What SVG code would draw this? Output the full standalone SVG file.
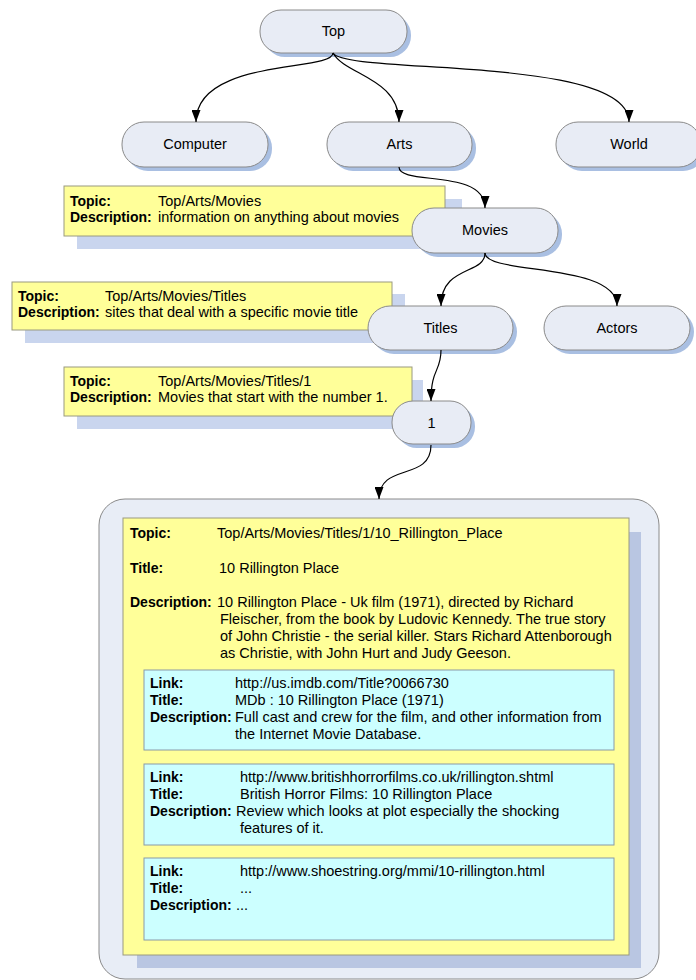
<svg xmlns="http://www.w3.org/2000/svg" width="696" height="980" viewBox="0 0 696 980">
<style>
text{font-family:"Liberation Sans",Arial,sans-serif;font-size:14.5px;fill:#000}
.b{font-weight:bold;font-size:14px}
.nt{font-size:14.5px;text-anchor:middle}
.node{fill:#e8ecf5;stroke:#8a8a8a;stroke-width:1}
.nsh{fill:#a9bfe2}
.note{fill:#ffff99;stroke:#9a9a80;stroke-width:1}
.noteSh{fill:#c9d5ee}
.cyan{fill:#ccffff;stroke:#8a9aa8;stroke-width:1}
.edge{fill:none;stroke:#000;stroke-width:1.2}
</style>
<defs>
<marker id="arr" markerWidth="12" markerHeight="9" refX="12" refY="4.5" orient="auto" markerUnits="userSpaceOnUse">
<path d="M0,0 L12,4.5 L0,9 z" fill="#000"/>
</marker>
</defs>

<!-- notes -->
<g id="note-movies">
<rect class="noteSh" x="77" y="199" width="385" height="50"/>
<rect class="note" x="64" y="186" width="381" height="50"/>
<text x="70" y="206" class="b">Topic:</text><text x="158" y="206">Top/Arts/Movies</text>
<text x="70" y="222" class="b">Description:</text><text x="158" y="222">information on anything about movies</text>
</g>
<g id="note-titles">
<rect class="noteSh" x="25" y="294" width="380" height="49"/>
<rect class="note" x="12" y="282" width="380" height="48"/>
<text x="18" y="301" class="b">Topic:</text><text x="105" y="301">Top/Arts/Movies/Titles</text>
<text x="18" y="317" class="b">Description:</text><text x="105" y="317">sites that deal with a specific movie title</text>
</g>
<g id="note-1">
<rect class="noteSh" x="77" y="380" width="346" height="49"/>
<rect class="note" x="64" y="367" width="348" height="49"/>
<text x="70" y="386" class="b">Topic:</text><text x="158" y="386">Top/Arts/Movies/Titles/1</text>
<text x="70" y="402" class="b">Description:</text><text x="158" y="402">Movies that start with the number 1.</text>
</g>

<!-- nodes -->
<g id="node-top">
<rect class="nsh" x="264" y="14" width="147" height="43" rx="21"/>
<rect class="node" x="260" y="10" width="147" height="43" rx="21"/>
<text class="nt" x="333.5" y="36">Top</text>
</g>
<g id="node-computer">
<rect class="nsh" x="126" y="126" width="146" height="45" rx="22"/>
<rect class="node" x="122" y="122" width="146" height="45" rx="22"/>
<text class="nt" x="195" y="149">Computer</text>
</g>
<g id="node-arts">
<rect class="nsh" x="331" y="126" width="145" height="45" rx="22"/>
<rect class="node" x="327" y="122" width="145" height="45" rx="22"/>
<text class="nt" x="399.5" y="149">Arts</text>
</g>
<g id="node-world">
<rect class="nsh" x="560" y="126" width="145" height="45" rx="22"/>
<rect class="node" x="556" y="122" width="145" height="45" rx="22"/>
<text class="nt" x="629" y="149">World</text>
</g>
<g id="node-movies">
<rect class="nsh" x="416" y="212" width="146" height="45" rx="22"/>
<rect class="node" x="412" y="208" width="146" height="45" rx="22"/>
<text class="nt" x="485" y="235">Movies</text>
</g>
<g id="node-titles">
<rect class="nsh" x="372" y="310" width="145" height="44" rx="22"/>
<rect class="node" x="368" y="306" width="145" height="44" rx="22"/>
<text class="nt" x="440.5" y="333">Titles</text>
</g>
<g id="node-actors">
<rect class="nsh" x="548" y="310" width="146" height="44" rx="22"/>
<rect class="node" x="544" y="306" width="146" height="44" rx="22"/>
<text class="nt" x="617" y="333">Actors</text>
</g>
<g id="node-1">
<rect class="nsh" x="396" y="405" width="79" height="43" rx="21"/>
<rect class="node" x="392" y="401" width="79" height="43" rx="21"/>
<text class="nt" x="431.5" y="428">1</text>
</g>

<!-- detail container -->
<g id="node-detail">
<rect x="99" y="499" width="560" height="480" rx="26" fill="#e8edf6" stroke="#8a8a8a" stroke-width="1"/>
<rect x="137" y="532" width="504" height="436" fill="#b9c6e2"/>
<rect x="123" y="518" width="506" height="437" fill="#ffff99" stroke="#9a9a80" stroke-width="1"/>
<text x="130" y="538" class="b">Topic:</text><text x="217" y="538">Top/Arts/Movies/Titles/1/10_Rillington_Place</text>
<text x="130" y="573" class="b">Title:</text><text x="219" y="573">10 Rillington Place</text>
<text x="130" y="607" class="b">Description:</text><text x="217" y="607">10 Rillington Place - Uk film (1971), directed by Richard</text>
<text x="220" y="624">Fleischer, from the book by Ludovic Kennedy. The true story</text>
<text x="220" y="641">of John Christie - the serial killer. Stars Richard Attenborough</text>
<text x="220" y="658">as Christie, with John Hurt and Judy Geeson.</text>

<rect class="cyan" x="144" y="670" width="470" height="80"/>
<text x="150" y="688" class="b">Link:</text><text x="235" y="688">http://us.imdb.com/Title?0066730</text>
<text x="150" y="705" class="b">Title:</text><text x="235" y="705">MDb : 10 Rillington Place (1971)</text>
<text x="150" y="722" class="b">Description:</text><text x="235" y="722">Full cast and crew for the film, and other information from</text>
<text x="235" y="739">the Internet Movie Database.</text>

<rect class="cyan" x="144" y="764" width="470" height="81"/>
<text x="150" y="782" class="b">Link:</text><text x="240" y="782">http://www.britishhorrorfilms.co.uk/rillington.shtml</text>
<text x="150" y="799" class="b">Title:</text><text x="240" y="799">British Horror Films: 10 Rillington Place</text>
<text x="150" y="816" class="b">Description:</text><text x="236" y="816">Review which looks at plot especially the shocking</text>
<text x="240" y="833">features of it.</text>

<rect class="cyan" x="144" y="858" width="470" height="82"/>
<text x="150" y="876" class="b">Link:</text><text x="240" y="876">http://www.shoestring.org/mmi/10-rillington.html</text>
<text x="150" y="893" class="b">Title:</text><text x="240" y="893">...</text>
<text x="150" y="910" class="b">Description:</text><text x="236" y="910">...</text>
</g>

<!-- connectors -->
<g id="connectors">
<path class="edge" marker-end="url(#arr)" d="M333,53 C333,72 196,58 196,122"/>
<path class="edge" marker-end="url(#arr)" d="M333,53 C345,75 399,78 399,122"/>
<path class="edge" marker-end="url(#arr)" d="M333,53 C345,75 629,55 629,122"/>
<path class="edge" marker-end="url(#arr)" d="M399,167 C399,186 485,168 485,208"/>
<path class="edge" marker-end="url(#arr)" d="M485,253 C485,275 441,265 441,306"/>
<path class="edge" marker-end="url(#arr)" d="M485,253 C485,275 617,262 617,306"/>
<path class="edge" marker-end="url(#arr)" d="M441,350 C441,372 431,368 431,401"/>
<path class="edge" marker-end="url(#arr)" d="M431,445 C431,482 379,462 379,499"/>
</g>
</svg>
